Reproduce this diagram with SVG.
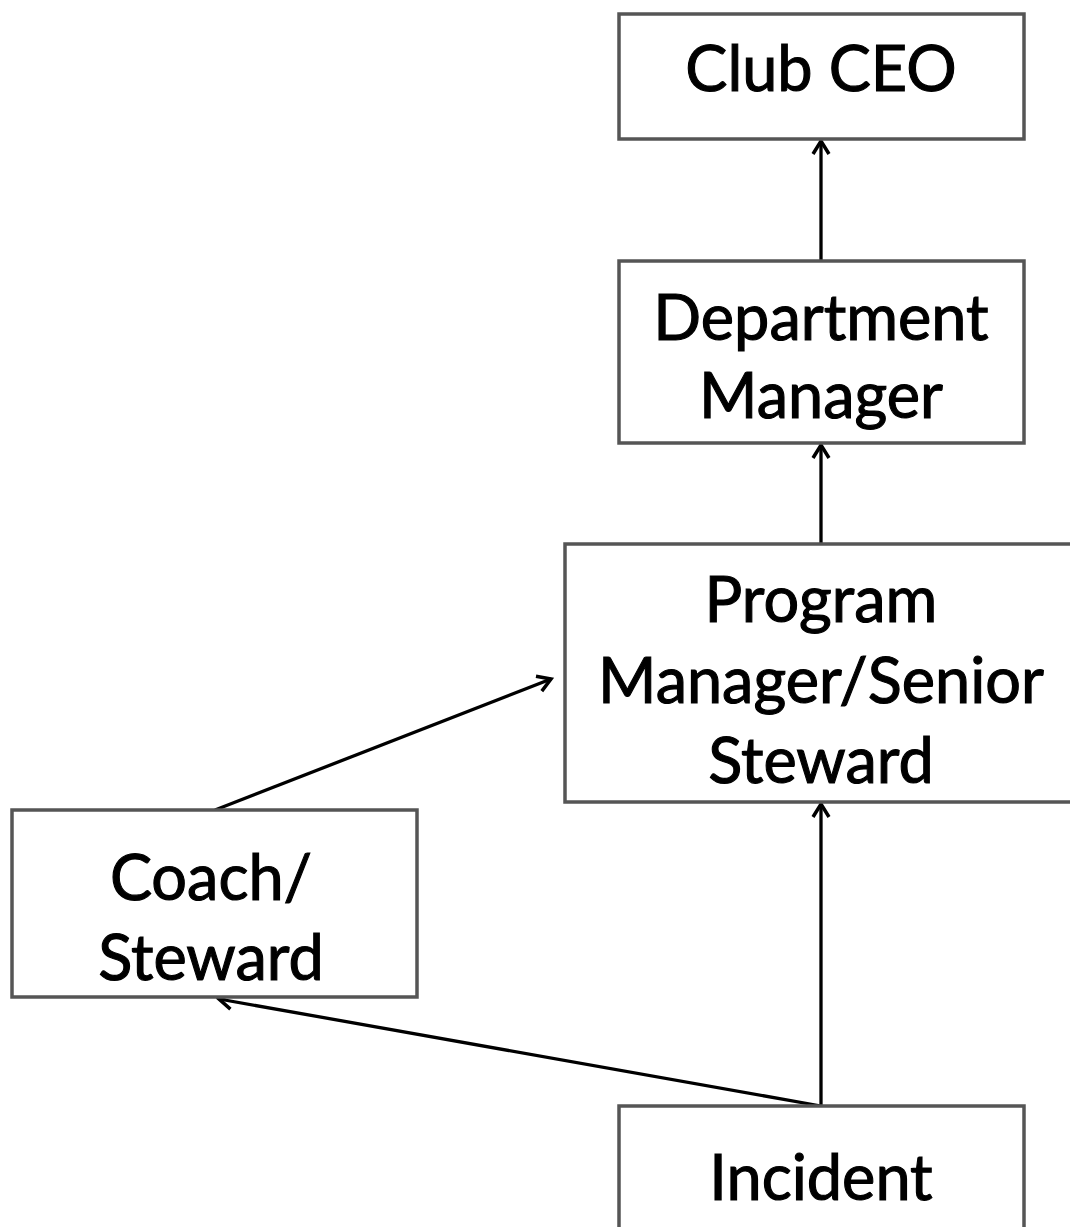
<svg xmlns="http://www.w3.org/2000/svg" width="1070" height="1227" viewBox="0 0 1070 1227">
<defs>
<marker id="arr" markerWidth="20" markerHeight="20" refX="15" refY="10" orient="auto" markerUnits="userSpaceOnUse">
<path d="M2,2 L15,10 L2,18" fill="none" stroke="#000" stroke-width="3.5"/>
</marker>
</defs>
<style>
.box{fill:#fff;stroke:#555;stroke-width:3.5}
.lbl{font-family:Lato,"Open Sans","Liberation Sans",sans-serif;font-size:63px;fill:#000;stroke:#000;stroke-width:1.1;text-anchor:middle}
.con{stroke:#000;stroke-width:3.3;fill:none}
</style>
<rect width="1070" height="1227" fill="#fff"/>
<g id="connectors">
<line class="con" x1="821" y1="261" x2="821" y2="141" marker-end="url(#arr)"/>
<line class="con" x1="821" y1="544" x2="821" y2="445" marker-end="url(#arr)"/>
<line class="con" x1="821" y1="1106" x2="821" y2="804" marker-end="url(#arr)"/>
<polyline class="con" points="821,1106 219,999" marker-end="url(#arr)"/>
<line class="con" x1="215" y1="810" x2="551" y2="679" marker-end="url(#arr)"/>
</g>
<g id="club-ceo">
<rect class="box" x="619" y="14" width="405" height="125"/>
<text class="lbl" x="821" y="91">Club CEO</text>
</g>
<g id="department-manager">
<rect class="box" x="619" y="261" width="405" height="182"/>
<text class="lbl" x="821" y="340">Department</text>
<text class="lbl" x="821" y="418">Manager</text>
</g>
<g id="program-manager">
<rect class="box" x="565" y="544" width="510" height="258"/>
<text class="lbl" x="821" y="622">Program</text>
<text class="lbl" x="821" y="703">Manager/Senior</text>
<text class="lbl" x="821" y="783">Steward</text>
</g>
<g id="coach-steward">
<rect class="box" x="12" y="810" width="405" height="187"/>
<text class="lbl" x="211" y="900">Coach/</text>
<text class="lbl" x="211" y="980">Steward</text>
</g>
<g id="incident">
<rect class="box" x="619" y="1106" width="405" height="140"/>
<text class="lbl" x="821" y="1200">Incident</text>
</g>
</svg>
